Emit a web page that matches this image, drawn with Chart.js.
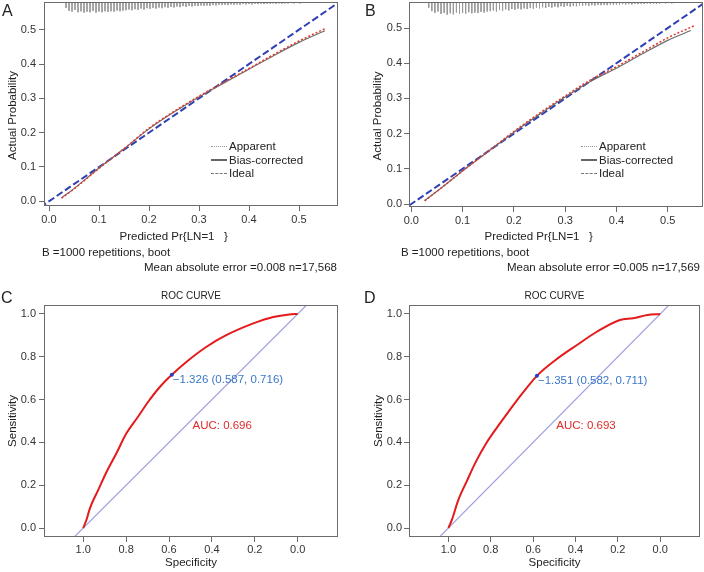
<!DOCTYPE html>
<html lang="en">
<head>
<meta charset="UTF-8">
<title>Calibration and ROC curves</title>
<script src="https://cdn.jsdelivr.net/npm/chart.js@4"></script>
<style>
    body { margin: 0; background: #fff; font-family: "Liberation Sans", Arial, sans-serif; color: #222; }
    #wrap { position: relative; width: 704px; height: 572px; overflow: hidden; }
    .panel { position: absolute; }
    .txt { position: absolute; white-space: nowrap; font-size: 11.5px; line-height: 12px; }
    .letter { position: absolute; font-size: 16px; line-height: 16px; }
    .legend { position: absolute; font-size: 11.5px; line-height: 13.5px; white-space: nowrap; }
    .legend span { display: inline-block; width: 16px; vertical-align: middle; margin-right: 2px; }
</style>
</head>
<body>
<div id="wrap">
    <canvas id="chartA" class="panel" width="352" height="290" style="left:0;top:0"></canvas>
    <canvas id="chartB" class="panel" width="352" height="290" style="left:352px;top:0"></canvas>
    <canvas id="chartC" class="panel" width="352" height="282" style="left:0;top:290px"></canvas>
    <canvas id="chartD" class="panel" width="352" height="282" style="left:352px;top:290px"></canvas>

    <div class="letter" style="left:2px;top:3px">A</div>
    <div class="letter" style="left:365px;top:3px">B</div>
    <div class="letter" style="left:1px;top:290px">C</div>
    <div class="letter" style="left:364px;top:290px">D</div>

    <div class="legend" style="left:211px;top:140px">
        <div><span style="border-top:1px dotted #999"></span>Apparent</div>
        <div><span style="border-top:2px solid #666"></span>Bias-corrected</div>
        <div><span style="border-top:1px dashed #777"></span>Ideal</div>
    </div>
    <div class="legend" style="left:581px;top:140px">
        <div><span style="border-top:1px dotted #999"></span>Apparent</div>
        <div><span style="border-top:2px solid #666"></span>Bias-corrected</div>
        <div><span style="border-top:1px dashed #777"></span>Ideal</div>
    </div>

    <div class="txt" style="left:42px;top:246px">B =1000 repetitions, boot</div>
    <div class="txt" style="right:367px;top:261px">Mean absolute error =0.008 n=17,568</div>
    <div class="txt" style="left:401px;top:246px">B =1000 repetitions, boot</div>
    <div class="txt" style="right:4px;top:261px">Mean absolute error =0.005 n=17,569</div>
</div>

<script>
    const FONT = '"Liberation Sans", Arial, sans-serif';

    // ---- calibration data (panel A / B) ----
    const calTicks = [0, 0.1, 0.2, 0.3, 0.4, 0.5];
    const idealLine = [-0.1, 0.7];

    const calAx = [0.025, 0.05, 0.1, 0.15, 0.2, 0.25, 0.3, 0.35, 0.4, 0.45, 0.5, 0.552];
    const apparentA = [0.009, 0.036, 0.096, 0.153, 0.213, 0.262, 0.306, 0.347, 0.387, 0.428, 0.467, 0.503];
    const biasA = [0.010, 0.037, 0.097, 0.153, 0.211, 0.260, 0.304, 0.345, 0.385, 0.425, 0.463, 0.497];

    const calBx = [0.026, 0.05, 0.1, 0.15, 0.2, 0.25, 0.3, 0.35, 0.4, 0.45, 0.5, 0.551];
    const calBxBias = [0.026, 0.05, 0.1, 0.15, 0.2, 0.25, 0.3, 0.35, 0.4, 0.45, 0.5, 0.545];
    const apparentB = [0.009, 0.036, 0.094, 0.150, 0.206, 0.258, 0.307, 0.353, 0.390, 0.431, 0.472, 0.506];
    const biasB = [0.010, 0.036, 0.094, 0.149, 0.204, 0.255, 0.304, 0.349, 0.386, 0.426, 0.465, 0.493];

    // rug of predicted probabilities (tick position, tick length)
    const rugX = [0.034,0.040,0.046,0.052,0.058,0.064,0.070,0.076,0.082,0.088,0.094,0.100,0.106,0.112,0.118,0.124,0.130,0.136,0.142,0.148,
        0.154,0.160,0.166,0.172,0.178,0.184,0.190,0.196,0.202,0.208,0.214,0.220,0.226,0.232,0.238,0.244,0.250,0.256,0.262,0.268,
        0.274,0.280,0.286,0.292,0.298,0.304,0.310,0.316,0.322,0.328,0.334,0.340,0.346,0.352,0.358,0.364,0.370,0.376,0.382,0.388,
        0.394,0.400,0.406,0.412,0.418,0.424,0.430,0.436,0.442,0.448,0.454,0.460,0.466,0.472,0.478,0.484,0.490,0.496,0.502,0.508,
        0.514,0.520,0.526,0.532,0.538,0.544,0.550,0.556];
    const rugA = [0.017,0.026,0.028,0.023,
        0.030,0.027,0.031,0.028,0.030,0.026,0.031,0.028,0.030,0.027,0.029,0.027,0.028,0.025,0.027,0.025,
        0.024,0.022,0.024,0.021,0.023,0.019,0.022,0.018,0.020,0.017,0.019,0.016,0.018,0.015,0.017,0.014,0.016,
        0.013,0.015,0.012,0.014,0.011,0.013,0.011,0.012,0.010,0.011,0.010,0.011,0.009,0.010,0.008,0.009,
        0.008,0.009,0.007,0.008,0.007,0.008,0.006,0.007,0.006,0.007,0.005,0.006,0.005,0.006,0.005,0.005,
        0.004,0.005,0.004,0.005,0.004,0.004,0.003,0.004,0.003,0.004,0.003,0.003,0.002,0.003,0.002,0.002,0.002];
    const rugB = [0.016,0.026,0.031,0.027,
        0.034,0.031,0.036,0.032,0.035,0.030,0.034,0.031,0.033,0.029,0.032,0.030,0.031,0.028,0.030,0.027,
        0.026,0.024,0.027,0.023,0.025,0.021,0.024,0.020,0.022,0.019,0.021,0.018,0.020,0.017,0.019,0.016,0.018,
        0.015,0.017,0.014,0.016,0.013,0.015,0.012,0.014,0.011,0.013,0.011,0.012,0.010,0.011,0.009,0.011,
        0.009,0.010,0.008,0.009,0.008,0.009,0.007,0.008,0.007,0.008,0.006,0.007,0.006,0.007,0.005,0.006,
        0.005,0.005,0.004,0.005,0.004,0.005,0.004,0.003,0.004,0.003,0.004,0.003,0.002,0.003,0.002,0.002,0.001];

    // ---- ROC data (panel C / D) ----
    const rocTicks = [0, 0.2, 0.4, 0.6, 0.8, 1.0];
    const diagSpec = [1.3, -0.3];
    const diagSens = [-0.3, 1.3];

    const specC = [1.0, 0.984, 0.969, 0.930, 0.891, 0.844, 0.800, 0.748, 0.697, 0.642, 0.587, 0.518, 0.425, 0.331, 0.207, 0.114, 0.040, 0.0];
    const sensC = [0.0, 0.041, 0.092, 0.178, 0.263, 0.352, 0.440, 0.515, 0.590, 0.660, 0.716, 0.777, 0.847, 0.902, 0.956, 0.986, 0.998, 1.0];
    const cutC = { thr: -1.326, spec: 0.587, sens: 0.716, auc: 0.696 };

    const specD = [1.0, 0.984, 0.953, 0.914, 0.870, 0.822, 0.770, 0.715, 0.650, 0.582, 0.494, 0.393, 0.299, 0.190, 0.128, 0.060, 0.0];
    const sensD = [0.0, 0.037, 0.131, 0.217, 0.310, 0.395, 0.470, 0.545, 0.630, 0.711, 0.785, 0.855, 0.917, 0.972, 0.980, 0.995, 1.0];
    const cutD = { thr: -1.351, spec: 0.582, sens: 0.711, auc: 0.693 };

    const zip = (xs, ys) => xs.map((x, i) => ({ x: x, y: ys[i] }));

    // each rug tick is a little segment hanging from the top of the plot
    function rugPoints(xs, hs, top) {
        const pts = [];
        xs.forEach((x, i) => { pts.push({ x: x, y: top }, { x: x, y: top - hs[i] }, { x: x, y: null }); });
        return pts;
    }

    // full box around the plot region (R style)
    const boxPlugin = {
        id: 'box',
        afterDraw(chart) {
            const a = chart.chartArea, ctx = chart.ctx;
            ctx.save();
            ctx.strokeStyle = '#6b6b6b';
            ctx.lineWidth = 1;
            ctx.strokeRect(Math.round(a.left) + 0.5, Math.round(a.top) + 0.5, Math.round(a.width) - 1, Math.round(a.height) - 1);
            ctx.restore();
        }
    };

    // text placed at data coordinates
    const notesPlugin = {
        id: 'notes',
        afterDatasetsDraw(chart, args, opts) {
            const ctx = chart.ctx, sx = chart.scales.x, sy = chart.scales.y;
            (opts.items || []).forEach(n => {
                ctx.save();
                ctx.font = '11.5px ' + FONT;
                ctx.fillStyle = n.color;
                ctx.textAlign = 'left';
                ctx.textBaseline = 'middle';
                ctx.fillText(n.text, sx.getPixelForValue(n.x) + n.dx, sy.getPixelForValue(n.y) + n.dy);
                ctx.restore();
            });
        }
    };

    function axis(o) {
        return {
            type: 'linear', min: o.min, max: o.max, reverse: !!o.reverse,
            afterBuildTicks: s => { s.ticks = o.ticks.map(v => ({ value: v })); },
            afterFit: s => {
                if (s.isHorizontal()) s.height = o.size; else s.width = o.size;
                s.paddingTop = 0; s.paddingBottom = 0; s.paddingLeft = 0; s.paddingRight = 0;
            },
            grid: { drawOnChartArea: false, drawTicks: true, tickLength: 5, color: '#6b6b6b', lineWidth: 1 },
            border: { display: false },
            ticks: { padding: o.pad, color: '#333', autoSkip: false, maxRotation: 0,
                font: { size: 11, family: FONT }, callback: v => Number(v).toFixed(1) },
            title: { display: true, text: o.title, color: '#222', font: { size: 11.5, family: FONT }, padding: o.tpad }
        };
    }

    function calibChart(id, c) {
        return new Chart(document.getElementById(id), {
            type: 'scatter',
            data: {
                datasets: [
                    { data: zip(c.x, c.app), showLine: true, borderColor: '#e0392b', borderWidth: 1.5, borderDash: [2, 2], pointRadius: 0, cubicInterpolationMode: 'monotone' },
                    { data: zip(c.xb, c.bias), showLine: true, borderColor: '#6e6e6e', borderWidth: 1.2, pointRadius: 0, cubicInterpolationMode: 'monotone' },
                    { data: zip(idealLine, idealLine), showLine: true, borderColor: '#2f3fb5', borderWidth: 2, borderDash: [7, 3], pointRadius: 0 },
                    { data: rugPoints(rugX, c.rug, c.ymax), showLine: true, spanGaps: false, borderColor: '#9a9a9a', borderWidth: 1, pointRadius: 0 }
                ]
            },
            options: {
                responsive: false, animation: false, events: [],
                layout: { padding: { left: 0, top: 2, right: c.padRight, bottom: c.padBottom } },
                plugins: { legend: { display: false }, tooltip: { enabled: false } },
                scales: {
                    x: axis({ min: c.xmin, max: c.xmax, ticks: calTicks, size: c.xSize, pad: 2.4,
                        title: 'Predicted Pr{LN=1   }\u2002\u2002\u2002\u2002\u2002\u2002', tpad: { top: 0, bottom: 0 } }),
                    y: axis({ min: c.ymin, max: c.ymax, ticks: calTicks, size: c.ySize, pad: c.yPad,
                        title: 'Actual Probability\u2002\u2002\u2002\u2002', tpad: { top: c.yTitlePad, bottom: 0 } })
                }
            },
            plugins: [boxPlugin]
        });
    }

    function rocChart(id, c) {
        return new Chart(document.getElementById(id), {
            type: 'scatter',
            data: {
                datasets: [
                    { data: [{ x: c.cut.spec, y: c.cut.sens }], pointRadius: 2, pointBackgroundColor: '#1f3fd0', pointBorderWidth: 0 },
                    { data: zip(c.spec, c.sens), showLine: true, borderColor: '#e41a1c', borderWidth: 2, pointRadius: 0, cubicInterpolationMode: 'monotone' },
                    { data: zip(diagSpec, diagSens), showLine: true, borderColor: '#9f9fe0', borderWidth: 1.2, pointRadius: 0 }
                ]
            },
            options: {
                responsive: false, animation: false, events: [],
                layout: { padding: { left: 0, top: 0, right: c.padRight, bottom: 2 } },
                plugins: {
                    legend: { display: false }, tooltip: { enabled: false },
                    title: { display: true, text: 'ROC CURVE', fullSize: false, color: '#222',
                        font: { size: 10, family: FONT, weight: 'normal' }, padding: { top: 0, bottom: 3 } },
                    notes: { items: [
                        { x: c.cut.spec, y: c.cut.sens, dx: 1, dy: 5, color: '#3a78c8',
                          text: '\u2212' + Math.abs(c.cut.thr).toFixed(3) + ' (' + c.cut.spec.toFixed(3) + ', ' + c.cut.sens.toFixed(3) + ')' },
                        { x: 0.5, y: 0.5, dx: 2, dy: 5, color: '#e02a2a', text: 'AUC: ' + c.cut.auc.toFixed(3) }
                    ] }
                },
                scales: {
                    x: axis({ min: -0.188, max: c.xmax, reverse: true, ticks: rocTicks, size: 33, pad: 1.4,
                        title: 'Specificity', tpad: { top: 0, bottom: 0 } }),
                    y: axis({ min: -0.042, max: 1.042, ticks: rocTicks, size: c.ySize, pad: c.yPad,
                        title: 'Sensitivity', tpad: { top: c.yTitlePad, bottom: 0 } })
                }
            },
            plugins: [boxPlugin, notesPlugin]
        });
    }

    calibChart('chartA', { x: calAx, xb: calAx, app: apparentA, bias: biasA, rug: rugA,
        xmin: -0.01, xmax: 0.578, ymin: -0.0137, ymax: 0.5807,
        padRight: 14, padBottom: 46.6, xSize: 37.4, ySize: 44, yPad: 3, yTitlePad: 5.6 });
    calibChart('chartB', { x: calBx, xb: calBxBias, app: apparentB, bias: biasB, rug: rugB,
        xmin: -0.0045, xmax: 0.5688, ymin: -0.0085, ymax: 0.574,
        padRight: 1, padBottom: 46.4, xSize: 36.6, ySize: 57, yPad: 2, yTitlePad: 19 });
    rocChart('chartC', { spec: specC, sens: sensC, cut: cutC, xmax: 1.183, padRight: 14, ySize: 44, yPad: 3, yTitlePad: 5.6 });
    rocChart('chartD', { spec: specD, sens: sensD, cut: cutD, xmax: 1.186, padRight: 1, ySize: 57, yPad: 2, yTitlePad: 19.8 });
</script>
</body>
</html>
